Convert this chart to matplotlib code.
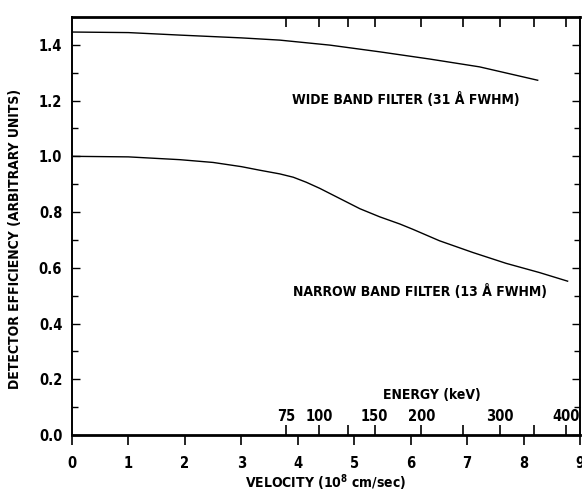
import numpy as np
import matplotlib
matplotlib.use("Agg")
import matplotlib.pyplot as plt

plt.rcParams['font.family'] = ['DejaVu Sans']
plt.rcParams['font.stretch'] = 'condensed'
plt.rcParams['font.weight'] = 'bold'

# curves (velocity in 1e8 cm/s)
wide_v = [0, 1.0, 1.91, 3.0, 3.68, 4.57, 5.45, 6.34, 7.22, 8.25]
wide_eff = [1.446, 1.444, 1.435, 1.425, 1.417, 1.399, 1.375, 1.349, 1.321, 1.273]

narrow_v = [0, 1.0, 1.91, 2.5, 3.0, 3.33, 3.68, 3.92, 4.15, 4.39, 4.74, 5.10, 5.45,
            5.81, 6.04, 6.51, 7.10, 7.69, 8.28, 8.78]
narrow_eff = [1.0, 0.998, 0.988, 0.978, 0.963, 0.950, 0.937, 0.925, 0.907, 0.885,
              0.849, 0.812, 0.783, 0.757, 0.738, 0.697, 0.655, 0.616, 0.583, 0.552]

energy_major = [75, 100, 150, 200, 300, 400]   # keV, labelled
energy_minor = [125, 250, 350]                 # keV, unlabelled


def vel_of_energy(e_kev):
    # hydrogen velocity for a given energy, in 1e8 cm/s
    m_h = 1.6726e-24
    return np.sqrt(2 * np.asarray(e_kev) * 1.602e-9 / m_h) / 1e8


fig = plt.figure(figsize=(5.82, 4.98), dpi=100)
ax = fig.add_axes([0.1237, 0.1265, 0.8729, 0.8394])

ax.plot(wide_v, wide_eff, color='black', lw=1.0)
ax.plot(narrow_v, narrow_eff, color='black', lw=1.0)

ax.set_xlim(0, 9)
ax.set_ylim(0, 1.5)
ax.set_xticks(range(10))
ax.set_yticks(np.arange(0, 1.41, 0.2))
ax.set_yticks(np.arange(0.1, 1.5, 0.2), minor=True)
ax.set_yticklabels([f"{v:.1f}" for v in np.arange(0, 1.41, 0.2)])

ax.tick_params(axis='x', direction='out', top=True, bottom=True, length=7, width=1.2,
               labelsize=10.5, pad=8)
ax.tick_params(axis='y', which='both', direction='in', left=True, right=True,
               labelsize=10.5, pad=7)
ax.tick_params(axis='y', which='major', length=6, width=1)
ax.tick_params(axis='y', which='minor', length=4, width=1)

for side in ['top', 'bottom']:
    ax.spines[side].set_linewidth(2.0)
for side in ['left', 'right']:
    ax.spines[side].set_linewidth(1.4)

# energy scale: ticks inside along bottom and top edges
twin = ax.twiny()
twin.set_xlim(ax.get_xlim())
twin.set_xticks(vel_of_energy(energy_major))
twin.set_xticks(vel_of_energy(energy_minor), minor=True)
twin.tick_params(axis='x', which='both', direction='in', top=True, bottom=True,
                 labeltop=False, labelbottom=False, length=7, width=1.2)
for side in twin.spines.values():
    side.set_visible(False)

for e in energy_major:
    ax.text(vel_of_energy(e), 0.065, str(e), ha='center', va='center',
            fontsize=10.5, fontweight='bold')
ax.text(6.37, 0.145, "ENERGY (keV)", ha='center', va='center',
        fontsize=10, fontweight='bold')

ax.text(3.89, 1.203, "WIDE BAND FILTER (31 Å FWHM)", ha='left', va='center',
        fontsize=10, fontweight='bold')
ax.text(3.91, 0.515, "NARROW BAND FILTER (13 Å FWHM)", ha='left', va='center',
        fontsize=10, fontweight='bold')

ax.set_xlabel("VELOCITY (10$^{\\mathbf{8}}$ cm/sec)", fontsize=10, fontweight='bold')
ax.xaxis.set_label_coords(0.5, -0.09)
ax.set_ylabel("DETECTOR EFFICIENCY (ARBITRARY UNITS)", fontsize=10, fontweight='bold')
ax.yaxis.set_label_coords(-0.098, 0.47)

fig.savefig("out.png", dpi=100)
